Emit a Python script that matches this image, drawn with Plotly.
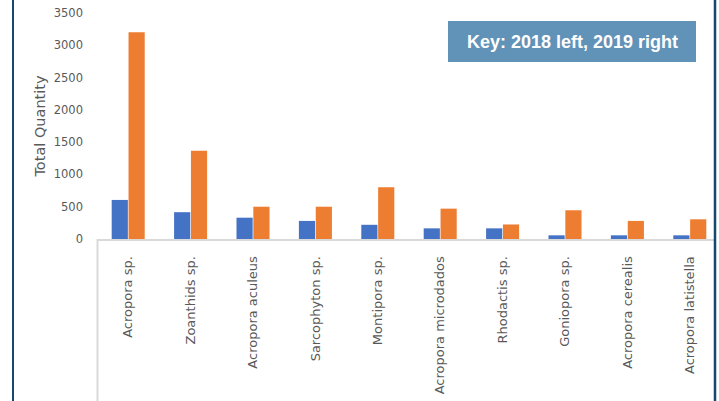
import plotly.graph_objects as go

# Coral species and total quantities per year
species = [
    "Acropora sp.", "Zoanthids sp.", "Acropora aculeus", "Sarcophyton sp.",
    "Montipora sp.", "Acropora microdados", "Rhodactis sp.", "Goniopora sp.",
    "Acropora cerealis", "Acropora latistella",
]
qty_2018 = [605, 415, 330, 280, 220, 165, 165, 57, 57, 57]
qty_2019 = [3200, 1365, 500, 500, 800, 470, 225, 445, 280, 305]

y_ticks = [0, 500, 1000, 1500, 2000, 2500, 3000, 3500]

W, H = 719, 401
L, R, T, B = 97, 4, 13, 162          # plot-area margins in px
PW, PH = W - L - R, H - T - B


def px_x(x):
    return (x - L) / PW


def px_y(y):
    return (H - B - y) / PH


fig = go.Figure()
fig.add_trace(go.Bar(x=species, y=qty_2018, name="2018",
                     marker=dict(color="#4472C4", line=dict(width=0))))
fig.add_trace(go.Bar(x=species, y=qty_2019, name="2019",
                     marker=dict(color="#ED7D31", line=dict(width=0))))

frame = "#17466E"
shapes = [
    # outer frame sides
    dict(type="line", xref="paper", yref="paper", x0=px_x(13), x1=px_x(13),
         y0=px_y(0), y1=px_y(H), line=dict(color=frame, width=2)),
    dict(type="line", xref="paper", yref="paper", x0=px_x(715), x1=px_x(715),
         y0=px_y(0), y1=px_y(H), line=dict(color=frame, width=2.5)),
    # category label area divider
    dict(type="line", xref="paper", yref="paper", x0=px_x(97.5), x1=px_x(97.5),
         y0=0, y1=px_y(H), line=dict(color="#D9D9D9", width=2)),
    # key box
    dict(type="rect", xref="paper", yref="paper", x0=px_x(448), x1=px_x(696),
         y0=px_y(62), y1=px_y(21), fillcolor="#6193B8", line=dict(width=0)),
]

fig.update_layout(
    width=W, height=H,
    margin=dict(l=L, r=R, t=T, b=B),
    paper_bgcolor="white", plot_bgcolor="white",
    showlegend=False,
    barmode="group", bargap=0.46, bargroupgap=0.04,
    font=dict(family="DejaVu Sans", color="#595959"),
    shapes=shapes,
    annotations=[dict(
        text="<b>Key: 2018 left, 2019 right</b>", xref="paper", yref="paper",
        x=px_x(572), y=px_y(41.5), xanchor="center", yanchor="middle",
        showarrow=False, font=dict(family="Liberation Sans", size=18, color="white"),
    )],
)
fig.update_xaxes(
    range=[-0.5, -0.5 + PW / 62.4], tickangle=-90,
    tickfont=dict(size=13, color="#595959"), ticklabelstandoff=10,
    showline=True, linecolor="#D9D9D9", linewidth=2, showgrid=False, zeroline=False,
)
fig.update_yaxes(
    range=[0, 3500], tickvals=y_ticks, showgrid=False, zeroline=False, showline=False,
    tickfont=dict(size=11.5, color="#595959"), ticklabelstandoff=13,
    title=dict(text="Total Quantity", font=dict(size=14.5, color="#595959"), standoff=4),
)

fig.write_html("out.html")
